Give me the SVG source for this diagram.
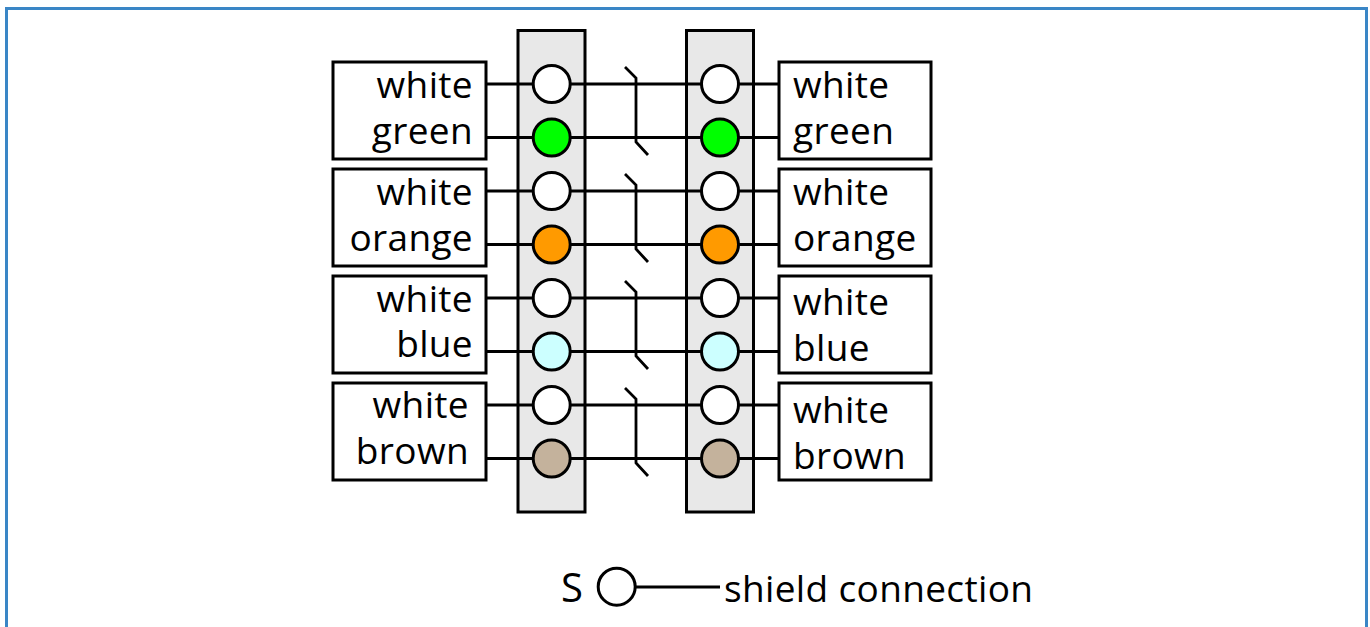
<svg xmlns="http://www.w3.org/2000/svg" width="1370" height="627" viewBox="0 0 1370 627">
<style>
text{font-family:"Open Sans","Noto Sans","DejaVu Sans",sans-serif;font-size:37px;letter-spacing:.35px;fill:#000}
.box{fill:#fff;stroke:#000;stroke-width:3}
.strip{fill:#e8e8e8;stroke:#000;stroke-width:3}
.w{fill:none;stroke:#000;stroke-width:2.8}
.pin{stroke:#000;stroke-width:3}
.e{text-anchor:end}
</style>
<rect x="0" y="0" width="1370" height="627" fill="#fff"/>
<path d="M6.500 627V8.500H1366.500V627" fill="none" stroke="#3a86c6" stroke-width="3"/>
<g id="strip-left"><rect class="strip" x="518" y="30.500" width="67" height="481.500"/></g>
<g id="strip-right"><rect class="strip" x="686.500" y="30.500" width="67" height="481.500"/></g>
<g id="connectors">
<path class="w" d="M486 84H779M486 137.500H779M486 191H779M486 244.500H779M486 298H779M486 351.500H779M486 405H779M486 458.500H779"/>
<path class="w" d="M625 67L636 78V142L648 155M625 174L636 185V249L648 262M625 281L636 292V356L648 369M625 388L636 399V463L648 476"/>
<path class="w" d="M636 587H720"/>
</g>
<g id="pin-l1"><circle class="pin" cx="551.700" cy="84" r="18.500" fill="#fff"/></g>
<g id="pin-l2"><circle class="pin" cx="551.700" cy="137.500" r="18.500" fill="#00ff00"/></g>
<g id="pin-l3"><circle class="pin" cx="551.700" cy="191" r="18.500" fill="#fff"/></g>
<g id="pin-l4"><circle class="pin" cx="551.700" cy="244.500" r="18.500" fill="#ff9a00"/></g>
<g id="pin-l5"><circle class="pin" cx="551.700" cy="298" r="18.500" fill="#fff"/></g>
<g id="pin-l6"><circle class="pin" cx="551.700" cy="351.500" r="18.500" fill="#ccffff"/></g>
<g id="pin-l7"><circle class="pin" cx="551.700" cy="405" r="18.500" fill="#fff"/></g>
<g id="pin-l8"><circle class="pin" cx="551.700" cy="458.500" r="18.500" fill="#c4b29c"/></g>
<g id="pin-r1"><circle class="pin" cx="720" cy="84" r="18.500" fill="#fff"/></g>
<g id="pin-r2"><circle class="pin" cx="720" cy="137.500" r="18.500" fill="#00ff00"/></g>
<g id="pin-r3"><circle class="pin" cx="720" cy="191" r="18.500" fill="#fff"/></g>
<g id="pin-r4"><circle class="pin" cx="720" cy="244.500" r="18.500" fill="#ff9a00"/></g>
<g id="pin-r5"><circle class="pin" cx="720" cy="298" r="18.500" fill="#fff"/></g>
<g id="pin-r6"><circle class="pin" cx="720" cy="351.500" r="18.500" fill="#ccffff"/></g>
<g id="pin-r7"><circle class="pin" cx="720" cy="405" r="18.500" fill="#fff"/></g>
<g id="pin-r8"><circle class="pin" cx="720" cy="458.500" r="18.500" fill="#c4b29c"/></g>
<g id="label-l1"><rect class="box" x="333" y="62" width="153" height="97"/><text class="e" x="473" y="98">white</text><text class="e" x="473" y="144">green</text></g>
<g id="label-l2"><rect class="box" x="333" y="169" width="153" height="97"/><text class="e" x="473" y="205">white</text><text class="e" x="473" y="251">orange</text></g>
<g id="label-l3"><rect class="box" x="333" y="276" width="153" height="97"/><text class="e" x="473" y="312">white</text><text class="e" x="473" y="357">blue</text></g>
<g id="label-l4"><rect class="box" x="333" y="383" width="153" height="97"/><text class="e" x="469" y="418">white</text><text class="e" x="469" y="464">brown</text></g>
<g id="label-r1"><rect class="box" x="779" y="62" width="152" height="97"/><text x="793" y="98">white</text><text x="793" y="144">green</text></g>
<g id="label-r2"><rect class="box" x="779" y="169" width="152" height="97"/><text x="793" y="205">white</text><text x="793" y="251">orange</text></g>
<g id="label-r3"><rect class="box" x="779" y="276" width="152" height="97"/><text x="793" y="315">white</text><text x="793" y="361">blue</text></g>
<g id="label-r4"><rect class="box" x="779" y="383" width="152" height="97"/><text x="793" y="423">white</text><text x="793" y="469">brown</text></g>
<g id="shield"><text x="561" y="602" style="font-size:40px">S</text><circle cx="616.700" cy="586.700" r="18.500" fill="#fff" stroke="#000" stroke-width="3"/><text x="724" y="602">shield connection</text></g>
</svg>
